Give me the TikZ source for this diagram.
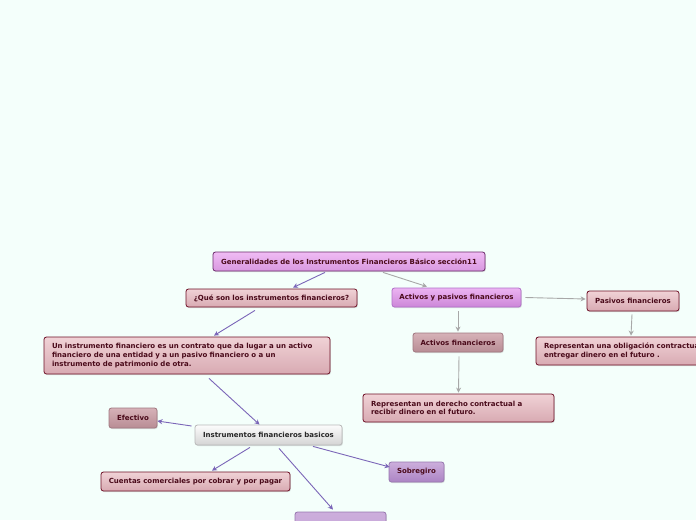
\documentclass[tikz,border=0pt]{standalone}
\usepackage{fontspec}
\setmainfont{DejaVu Sans}
\usetikzlibrary{arrows.meta,shadows}
\definecolor{bg}{HTML}{F4FFFB}
\definecolor{pinkT}{HTML}{F0D2D6}
\definecolor{pinkB}{HTML}{D8AAB2}
\definecolor{maroon}{HTML}{6E1026}
\definecolor{txtM}{HTML}{4A0A1A}
\definecolor{violT}{HTML}{F0BCF4}
\definecolor{violB}{HTML}{D898E0}
\definecolor{violD}{HTML}{6B2A6B}
\definecolor{avT}{HTML}{ECB4F2}
\definecolor{avB}{HTML}{CC86D8}
\definecolor{avD}{HTML}{B070C8}
\definecolor{dpT}{HTML}{D6B2B8}
\definecolor{dpB}{HTML}{B88C94}
\definecolor{dpD}{HTML}{A07880}
\definecolor{grT}{HTML}{FCFCFC}
\definecolor{grB}{HTML}{D4D4D4}
\definecolor{grD}{HTML}{B8B8B8}
\definecolor{puT}{HTML}{CCAEDC}
\definecolor{puB}{HTML}{AC84C4}
\definecolor{puD}{HTML}{9878B0}
\definecolor{lineP}{HTML}{7B66B8}
\definecolor{lineG}{HTML}{A8A8A8}
\tikzset{
  box/.style={rounded corners=2.5pt, line width=0.8pt, font=\fontsize{7}{8.6}\selectfont\bfseries,
    inner sep=0pt, drop shadow={shadow xshift=0.8pt, shadow yshift=-1pt, opacity=0.25}},
  rootbox/.style={box, draw=violD, top color=violT, bottom color=violB, text=txtM},
  pinkbox/.style={box, draw=maroon, top color=pinkT, bottom color=pinkB, text=txtM},
  avbox/.style={box, draw=avD, top color=avT, bottom color=avB, text=txtM},
  dpbox/.style={box, draw=dpD, top color=dpT, bottom color=dpB, text=txtM},
  grbox/.style={box, draw=grD, top color=grT, bottom color=grB, text=black!85},
  pubox/.style={box, draw=puD, top color=puT, bottom color=puB, text=txtM},
  parbox/.style={align=left, text width=#1},
  pline/.style={draw=lineP, line width=0.9pt, -{Stealth[length=5pt,width=5pt]}},
  gline/.style={draw=lineG, line width=0.9pt, -{Stealth[length=5pt,width=5pt]}},
}
\begin{document}
\begin{tikzpicture}[x=1pt,y=-1pt]
\fill[bg] (0,0) rectangle (696,520);
\useasboundingbox (0,0) rectangle (696,520);
\clip (0,0) rectangle (696,520);

\node[rootbox, minimum width=272pt, minimum height=19pt] (root) at (349,261.5)
  {Generalidades de los Instrumentos Financieros Básico sección11};
\node[pinkbox, minimum width=171pt, minimum height=18pt] (que) at (271.5,298)
  {¿Qué son los instrumentos financieros?};
\node[avbox, minimum width=129pt, minimum height=19pt] (ayp) at (456.5,297.5)
  {Activos y pasivos financieros};
\node[pinkbox, minimum width=92pt, minimum height=20pt] (pas) at (633,301)
  {Pasivos financieros};
\node[dpbox, minimum width=90pt, minimum height=19pt] (act) at (458,342.5)
  {Activos financieros};
\node[pinkbox, minimum width=200pt, minimum height=28pt, parbox=184pt] (obl) at (636,351)
  {Representan una obligación contractual a\\entregar dinero en el futuro .};
\node[pinkbox, minimum width=286pt, minimum height=37pt, parbox=270pt] (def) at (187,355.5)
  {Un instrumento financiero es un contrato que da lugar a un activo\\financiero de una entidad y a un pasivo financiero o a un\\instrumento de patrimonio de otra.};
\node[pinkbox, minimum width=191pt, minimum height=28pt, parbox=175pt] (der) at (458.5,408)
  {Representan un derecho contractual a\\recibir dinero en el futuro.};
\node[dpbox, minimum width=48pt, minimum height=20pt] (efe) at (133,418) {Efectivo};
\node[grbox, minimum width=147pt, minimum height=20pt] (ins) at (268.5,435)
  {Instrumentos financieros basicos};
\node[pinkbox, minimum width=189pt, minimum height=19pt] (cue) at (195.5,481.5)
  {Cuentas comerciales por cobrar y por pagar};
\node[pubox, minimum width=55pt, minimum height=20pt] (sob) at (416.5,472) {Sobregiro};
\node[pubox, minimum width=91pt, minimum height=20pt, top color=puT, bottom color=puT!85!puB] (bot) at (340.5,522) {};

\draw[pline] ([xshift=-24pt,yshift=-1pt]root.south) -- ([xshift=21.5pt,yshift=1pt]que.north);
\draw[gline] ([xshift=34pt,yshift=-1pt]root.south) -- ([xshift=-29.5pt,yshift=1pt]ayp.north);
\draw[gline] ([xshift=4pt]ayp.east) -- ([xshift=-1pt,yshift=2pt]pas.west);
\draw[gline] ([xshift=1.5pt,yshift=-4pt]ayp.south) -- ([yshift=1pt]act.north);
\draw[gline] ([xshift=-1pt,yshift=-3pt]pas.south) -- ([xshift=-5pt,yshift=1pt]obl.north);
\draw[gline] ([xshift=1pt,yshift=-4pt]act.south) -- ([yshift=1pt]der.north);
\draw[pline] ([xshift=-16.5pt,yshift=-3pt]que.south) -- ([xshift=27pt,yshift=1pt]def.north);
\draw[pline] ([xshift=22pt,yshift=-4pt]def.south) -- ([xshift=-9pt,yshift=0pt]ins.north);
\draw[pline] ([xshift=-3pt,yshift=9pt]ins.west) -- ([xshift=0pt,yshift=-3pt]efe.east);
\draw[pline] ([xshift=-18.5pt,yshift=-2pt]ins.south) -- ([xshift=16.5pt,yshift=1pt]cue.north);
\draw[pline] ([xshift=44.5pt,yshift=-1pt]ins.south) -- ([xshift=1pt,yshift=5pt]sob.west);
\draw[pline] ([xshift=10.5pt,yshift=-3pt]ins.south) -- ([xshift=-7.5pt,yshift=2pt]bot.north);
\end{tikzpicture}
\end{document}
